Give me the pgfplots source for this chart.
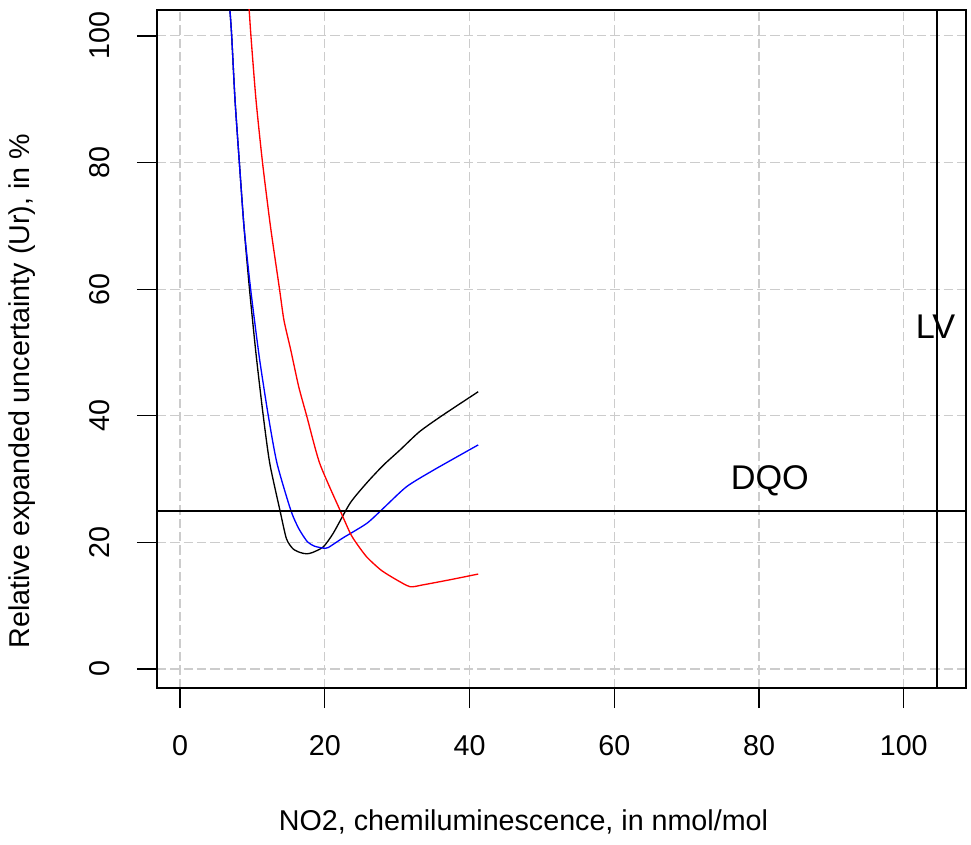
\documentclass[border=0pt]{standalone}
\usepackage{pgfplots}
\pgfplotsset{compat=1.18}
\usepackage{fontspec}
\setmainfont{Liberation Sans}
\begin{document}
\begin{tikzpicture}
\begin{axis}[
 scale only axis, width=606.75pt, height=508.5pt,
 xmin=-3.18, xmax=108.6, ymin=-3.0, ymax=104.1,
 axis line style={line width=1pt},
 tick pos=left,
 xtick={0,20,40,60,80,100}, ytick={0,20,40,60,80,100},
 tick align=outside, major tick length=15pt,
 every tick/.style={black, line width=1pt},
 grid=major,
 grid style={gray!40, dash pattern=on 7pt off 3pt, line width=0.8pt},
 /pgf/number format/assume math mode=true,
 tick label style={font=\fontsize{21.5}{24}\selectfont},
 xticklabel style={anchor=center}, xticklabel shift=28pt,
 yticklabel style={rotate=90, anchor=center}, yticklabel shift=28pt,
 label style={font=\fontsize{21.5}{24}\selectfont},
 xlabel={NO2, chemiluminescence, in nmol/mol},
 ylabel={Relative expanded uncertainty (Ur), in \%},
 xlabel style={at={(axis description cs:0.453,-0.1976)}, anchor=center},
 ylabel style={at={(axis description cs:-0.1665,0.438)}, anchor=center},
]
\addplot[black, line width=1pt, smooth, tension=0.4] coordinates {
(6.9,104) (7.14,100) (7.6,89.9) (8.2,80) (8.84,69.9) (9.6,60) (10.5,49.8)
(11.5,40) (12.4,32.5) (13.8,25.1) (14.7,20.6) (15.6,19.0) (16.6,18.4) (17.5,18.2)
(18.3,18.4) (19.8,19.3) (21.2,21.5) (23.5,26.2) (25.8,29.4) (28.1,32.2) (30.4,34.6)
(33.1,37.5) (36.3,40.1) (41.2,43.8)
};
\addplot[blue, line width=1pt, smooth, tension=0.4] coordinates {
(6.9,104) (7.14,100) (7.6,89.9) (8.2,80) (8.84,69.9) (9.76,60) (10.95,49.3)
(12.2,40) (13.4,32.5) (15.3,25.1) (16.4,22.2) (17.6,20.1) (18.6,19.4) (19.8,19.1)
(20.5,19.2) (22.5,20.7) (25.8,23.0) (28.1,25.4) (31.3,28.8) (35.0,31.4) (41.2,35.4)
};
\addplot[red, line width=1pt, smooth, tension=0.4] coordinates {
(9.45,106) (9.8,100) (10.5,89.9) (11.4,80) (12.5,69.9) (13.75,60) (14.36,55.1)
(15.3,50.4) (16.4,44.6) (17.5,40) (19.3,32.5) (22.1,25.1) (23.5,21.5) (24.3,20)
(25.8,17.7) (27.8,15.6) (29.9,14.1) (31.8,13.0) (33.6,13.3) (37.3,14.1) (41.2,15.0)
};
\addplot[black, line width=1.2pt] coordinates {(-10,25) (120,25)};
\addplot[black, line width=1.2pt] coordinates {(104.6,-10) (104.6,120)};
\node[font=\fontsize{25.7}{28}\selectfont] at (axis cs:81.5,29.7) {DQO};
\node[font=\fontsize{25.7}{28}\selectfont] at (axis cs:104.4,54) {LV};
\end{axis}
\pgfresetboundingbox
\path (-117.75pt,-117pt) rectangle (610.5pt,516pt);
\end{tikzpicture}
\end{document}
